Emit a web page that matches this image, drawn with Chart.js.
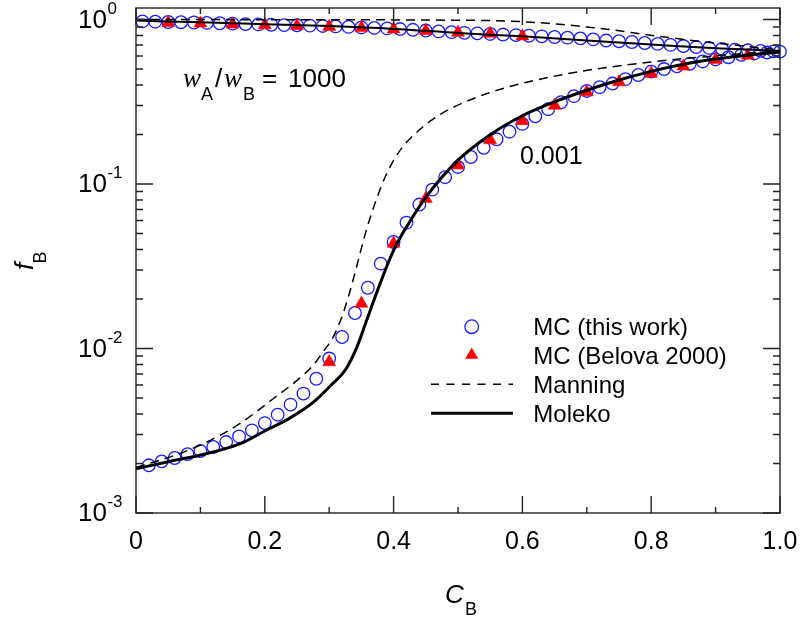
<!DOCTYPE html>
<html><head><meta charset="utf-8">
<script src="https://cdn.jsdelivr.net/npm/chart.js@4.4.0/dist/chart.umd.min.js"></script>
<style>html,body{margin:0;padding:0;background:#fff;}canvas{display:block;}</style>
</head><body>
<canvas id="c" width="803" height="619"></canvas>
<script>
// ---- tick labels ----
const xTickValues = [0, 0.2, 0.4, 0.6, 0.8, 1.0];
const xTickLabels = ['0', '0.2', '0.4', '0.6', '0.8', '1.0'];
const xMinorTicks = [0.1, 0.3, 0.5, 0.7, 0.9];
const yTickValues = [0.001, 0.01, 0.1, 1];
const yTickExponents = ['-3', '-2', '-1', '0'];

// ---- MC (this work), lower branch (wA/wB = 0.001) ----
const mcLowerX = [0.02,0.04,0.06,0.08,0.10,0.12,0.14,0.16,0.18,0.20,0.22,0.24,0.26,0.28,0.30,0.32,0.34,0.36,0.38,0.40,
  0.42,0.44,0.46,0.48,0.50,0.52,0.54,0.56,0.58,0.60,0.62,0.64,0.66,0.68,0.70,0.72,0.74,0.76,0.78,0.80,
  0.82,0.84,0.86,0.88,0.90,0.92,0.94,0.96,0.98,1.00];
const mcLowerY = [0.00195,0.00206,0.00216,0.00228,0.00238,0.00252,0.00270,0.00292,0.00318,0.00352,0.00396,0.00456,0.00532,0.00655,0.00869,0.01175,0.01644,0.0234,0.0328,0.0444,
  0.0582,0.075,0.0924,0.110,0.127,0.146,0.166,0.187,0.208,0.232,0.258,0.285,0.314,0.342,0.368,0.388,0.408,0.434,0.460,0.482,
  0.500,0.520,0.538,0.556,0.572,0.590,0.610,0.622,0.630,0.638];

// ---- MC (this work), upper branch (wA/wB = 1000) ----
const mcUpperX = [0.01,0.03,0.05,0.07,0.09,0.11,0.13,0.15,0.17,0.19,0.21,0.23,0.25,0.27,0.29,0.31,0.33,0.35,0.37,0.39,
  0.41,0.43,0.45,0.47,0.49,0.51,0.53,0.55,0.57,0.59,0.61,0.63,0.65,0.67,0.69,0.71,0.73,0.75,0.77,0.79,
  0.81,0.83,0.85,0.87,0.89,0.91,0.93,0.95,0.97,0.99];
const mcUpperY = [0.974,0.970,0.966,0.963,0.959,0.954,0.949,0.944,0.938,0.934,0.929,0.925,0.922,0.918,0.914,0.908,0.902,0.895,0.889,0.883,
  0.875,0.866,0.857,0.847,0.838,0.830,0.824,0.817,0.810,0.804,0.797,0.790,0.783,0.776,0.768,0.757,0.745,0.738,0.730,0.720,
  0.711,0.701,0.690,0.680,0.672,0.663,0.655,0.650,0.645,0.640];

// ---- MC (Belova 2000) ----
const belovaUpperX = [0.05,0.10,0.15,0.20,0.25,0.30,0.35,0.40,0.45,0.50,0.55,0.60];
const belovaUpperY = [0.956,0.948,0.935,0.925,0.915,0.903,0.890,0.873,0.855,0.833,0.822,0.792];
const belovaLowerX = [0.30,0.35,0.40,0.45,0.50,0.55,0.60,0.65,0.70,0.75,0.80,0.85,0.90,0.95];
const belovaLowerY = [0.00828,0.01875,0.0435,0.0815,0.130,0.185,0.242,0.300,0.362,0.417,0.469,0.519,0.570,0.605];

// ---- Moleko (solid) ----
const molekoLowerX = [0,0.05,0.10,0.16,0.20,0.24,0.275,0.305,0.325,0.343,0.358,0.379,0.40,0.42,0.45,0.50,0.55,0.60,0.65,0.70,0.75,0.80,0.85,0.90,0.95,1.0];
const molekoLowerY = [0.00186,0.00205,0.00225,0.00262,0.00315,0.0038,0.0047,0.0061,0.0074,0.0102,0.0148,0.0248,0.0395,0.0548,0.083,0.1396,0.1995,0.260,0.316,0.3715,0.4285,0.484,0.535,0.575,0.607,0.634];
const molekoUpperX = [0,0.1,0.2,0.3,0.4,0.5,0.6,0.7,0.8,0.9,1.0];
const molekoUpperY = [0.985,0.962,0.937,0.912,0.877,0.828,0.790,0.745,0.705,0.670,0.645];

// ---- Manning (dashed) ----
const manningLowerX = [0,0.068,0.11,0.161,0.213,0.25,0.275,0.29,0.306,0.322,0.337,0.348,0.358,0.374,0.389,0.41,0.441,0.467,0.493,0.545,0.596,0.658,0.72,0.824,0.928,1.0];
const manningLowerY = [0.00189,0.0023,0.0027,0.00349,0.00495,0.0064,0.0079,0.0095,0.0117,0.0165,0.026,0.038,0.053,0.082,0.115,0.160,0.215,0.257,0.293,0.355,0.406,0.459,0.504,0.565,0.614,0.646];
const manningUpperX = [0,0.2,0.4,0.5,0.55,0.6,0.658,0.7,0.731,0.772,0.824,0.876,0.928,1.0];
const manningUpperY = [1.0,0.998,0.995,0.99,0.985,0.97,0.936,0.90,0.874,0.83,0.78,0.735,0.70,0.652];

const seriesNames = ['MC (this work)', 'MC (Belova 2000)', 'Manning', 'Moleko'];

const pts = (xs, ys) => xs.map((x, i) => ({x: x, y: ys[i]}));
const FONT = '"Liberation Sans", Arial, Helvetica, sans-serif';
const BLUE = 'rgb(25,25,255)';
const RED = 'rgb(250,0,0)';

const lineDS = (label, xs, ys, width, dash) => ({
  label, data: pts(xs, ys), showLine: true, borderColor: '#000', borderWidth: width,
  borderDash: dash, pointRadius: 0, fill: false, cubicInterpolationMode: 'monotone', clip: false
});

const datasets = [
  lineDS(seriesNames[3], molekoLowerX, molekoLowerY, 3, []),
  lineDS(seriesNames[3], molekoUpperX, molekoUpperY, 2, []),
  lineDS(seriesNames[2], manningLowerX, manningLowerY, 1.5, [9, 6]),
  lineDS(seriesNames[2], manningUpperX, manningUpperY, 1.5, [9, 6]),
  { label: seriesNames[1], data: pts(belovaLowerX, belovaLowerY), showLine: false, pointStyle: 'triangle',
    pointRadius: 7.5, backgroundColor: RED, borderColor: RED, borderWidth: 0.5, clip: false },
  { label: seriesNames[1], data: pts(belovaUpperX, belovaUpperY), showLine: false, pointStyle: 'triangle',
    pointRadius: 7.5, backgroundColor: RED, borderColor: RED, borderWidth: 0.5, clip: false },
  { label: seriesNames[0], data: pts(mcLowerX, mcLowerY), showLine: false, pointStyle: 'circle',
    pointRadius: 6.3, backgroundColor: 'rgba(0,0,0,0)', borderColor: BLUE, borderWidth: 1.3, clip: false },
  { label: seriesNames[0], data: pts(mcUpperX, mcUpperY), showLine: false, pointStyle: 'circle',
    pointRadius: 6.3, backgroundColor: 'rgba(0,0,0,0)', borderColor: BLUE, borderWidth: 1.3, clip: false }
];

const decor = {
  id: 'decor',
  afterDatasetsDraw(chart) {
    const ctx = chart.ctx, xs = chart.scales.x, ys = chart.scales.y, a = chart.chartArea;
    ctx.save();
    // frame
    ctx.strokeStyle = '#222'; ctx.lineWidth = 1.4;
    ctx.strokeRect(a.left, a.top, a.right - a.left, a.bottom - a.top);
    // x ticks (bottom & top, inward)
    const tickX = (v, len) => {
      const px = xs.getPixelForValue(v);
      ctx.beginPath();
      ctx.moveTo(px, a.bottom); ctx.lineTo(px, a.bottom - len);
      ctx.moveTo(px, a.top); ctx.lineTo(px, a.top + len);
      ctx.stroke();
    };
    xTickValues.forEach(v => tickX(v, 17));
    xMinorTicks.forEach(v => tickX(v, 6));
    // y ticks (left & right, inward)
    const tickY = (v, len) => {
      const py = ys.getPixelForValue(v);
      ctx.beginPath();
      ctx.moveTo(a.left, py); ctx.lineTo(a.left + len, py);
      ctx.moveTo(a.right, py); ctx.lineTo(a.right - len, py);
      ctx.stroke();
    };
    yTickValues.forEach(v => tickY(v, 17));
    for (let d = -3; d < 0; d++) for (let k = 2; k <= 9; k++) tickY(k * Math.pow(10, d), 7);

    // x tick labels
    ctx.fillStyle = '#000';
    ctx.font = '25px ' + FONT; ctx.textAlign = 'center'; ctx.textBaseline = 'alphabetic';
    xTickValues.forEach((v, i) => ctx.fillText(xTickLabels[i], xs.getPixelForValue(v), 549));
    // y tick labels 10^n
    ctx.textAlign = 'left';
    yTickValues.forEach((v, i) => {
      const py = ys.getPixelForValue(v);
      ctx.font = '26px ' + FONT;
      ctx.fillText('10', 78, py + 8);
      const w = ctx.measureText('10').width;
      ctx.font = '17px ' + FONT;
      ctx.fillText(yTickExponents[i], 78 + w + 0.5, py - 6);
    });
    // x title C_B
    ctx.font = 'italic 26px ' + FONT;
    ctx.fillText('C', 445, 603);
    ctx.font = '18px ' + FONT;
    ctx.fillText('B', 465, 615);
    // y title f_B (rotated)
    ctx.save();
    ctx.translate(33, 270);
    ctx.rotate(-Math.PI / 2);
    ctx.font = 'italic 26px ' + FONT;
    ctx.fillText('f', 0, 0);
    ctx.font = '18px ' + FONT;
    ctx.fillText('B', 6.5, 13);
    ctx.restore();

    // annotations
    ctx.font = 'italic 27px "Liberation Serif", "Times New Roman", serif';
    ctx.fillText('w', 183, 87);
    ctx.fillText('w', 224, 87);
    ctx.font = '18px ' + FONT;
    ctx.fillText('A', 201, 100);
    ctx.fillText('B', 243, 100);
    ctx.font = '26px ' + FONT;
    ctx.fillText('/', 215, 87);
    ctx.fillText('=', 262, 87);
    ctx.fillText('1000', 288, 87);
    ctx.font = '25px ' + FONT;
    ctx.fillText('0.001', 520, 164);

    // legend
    const rows = [326.7, 355, 384.3, 413.3];
    const mx = 471.7, tx = 533.3;
    ctx.font = '24px ' + FONT;
    seriesNames.forEach((n, i) => ctx.fillText(n, tx, rows[i] + 8.5));
    ctx.strokeStyle = BLUE; ctx.lineWidth = 1.3;
    ctx.beginPath(); ctx.arc(mx, rows[0], 6.8, 0, Math.PI * 2); ctx.stroke();
    ctx.fillStyle = RED;
    const r = 7.5, cy = rows[1];
    ctx.beginPath();
    ctx.moveTo(mx, cy - r);
    ctx.lineTo(mx + r * Math.sin(2 * Math.PI / 3), cy - r * Math.cos(2 * Math.PI / 3));
    ctx.lineTo(mx + r * Math.sin(4 * Math.PI / 3), cy - r * Math.cos(4 * Math.PI / 3));
    ctx.closePath(); ctx.fill();
    ctx.strokeStyle = '#000';
    ctx.lineWidth = 1.5; ctx.setLineDash([8, 7.5]);
    ctx.beginPath(); ctx.moveTo(431, rows[2]); ctx.lineTo(513, rows[2]); ctx.stroke();
    ctx.setLineDash([]); ctx.lineWidth = 3;
    ctx.beginPath(); ctx.moveTo(431, rows[3]); ctx.lineTo(513, rows[3]); ctx.stroke();
    ctx.restore();
  }
};

new Chart(document.getElementById('c'), {
  type: 'scatter',
  data: { datasets },
  options: {
    responsive: false, animation: false, devicePixelRatio: 1,
    layout: { padding: { left: 136, right: 23, top: 8, bottom: 106 } },
    plugins: { legend: { display: false }, tooltip: { enabled: false } },
    scales: {
      x: { type: 'linear', min: 0, max: 1, display: false },
      y: { type: 'logarithmic', min: 0.001, max: 1.175, display: false }
    }
  },
  plugins: [decor]
});
</script>
</body></html>
